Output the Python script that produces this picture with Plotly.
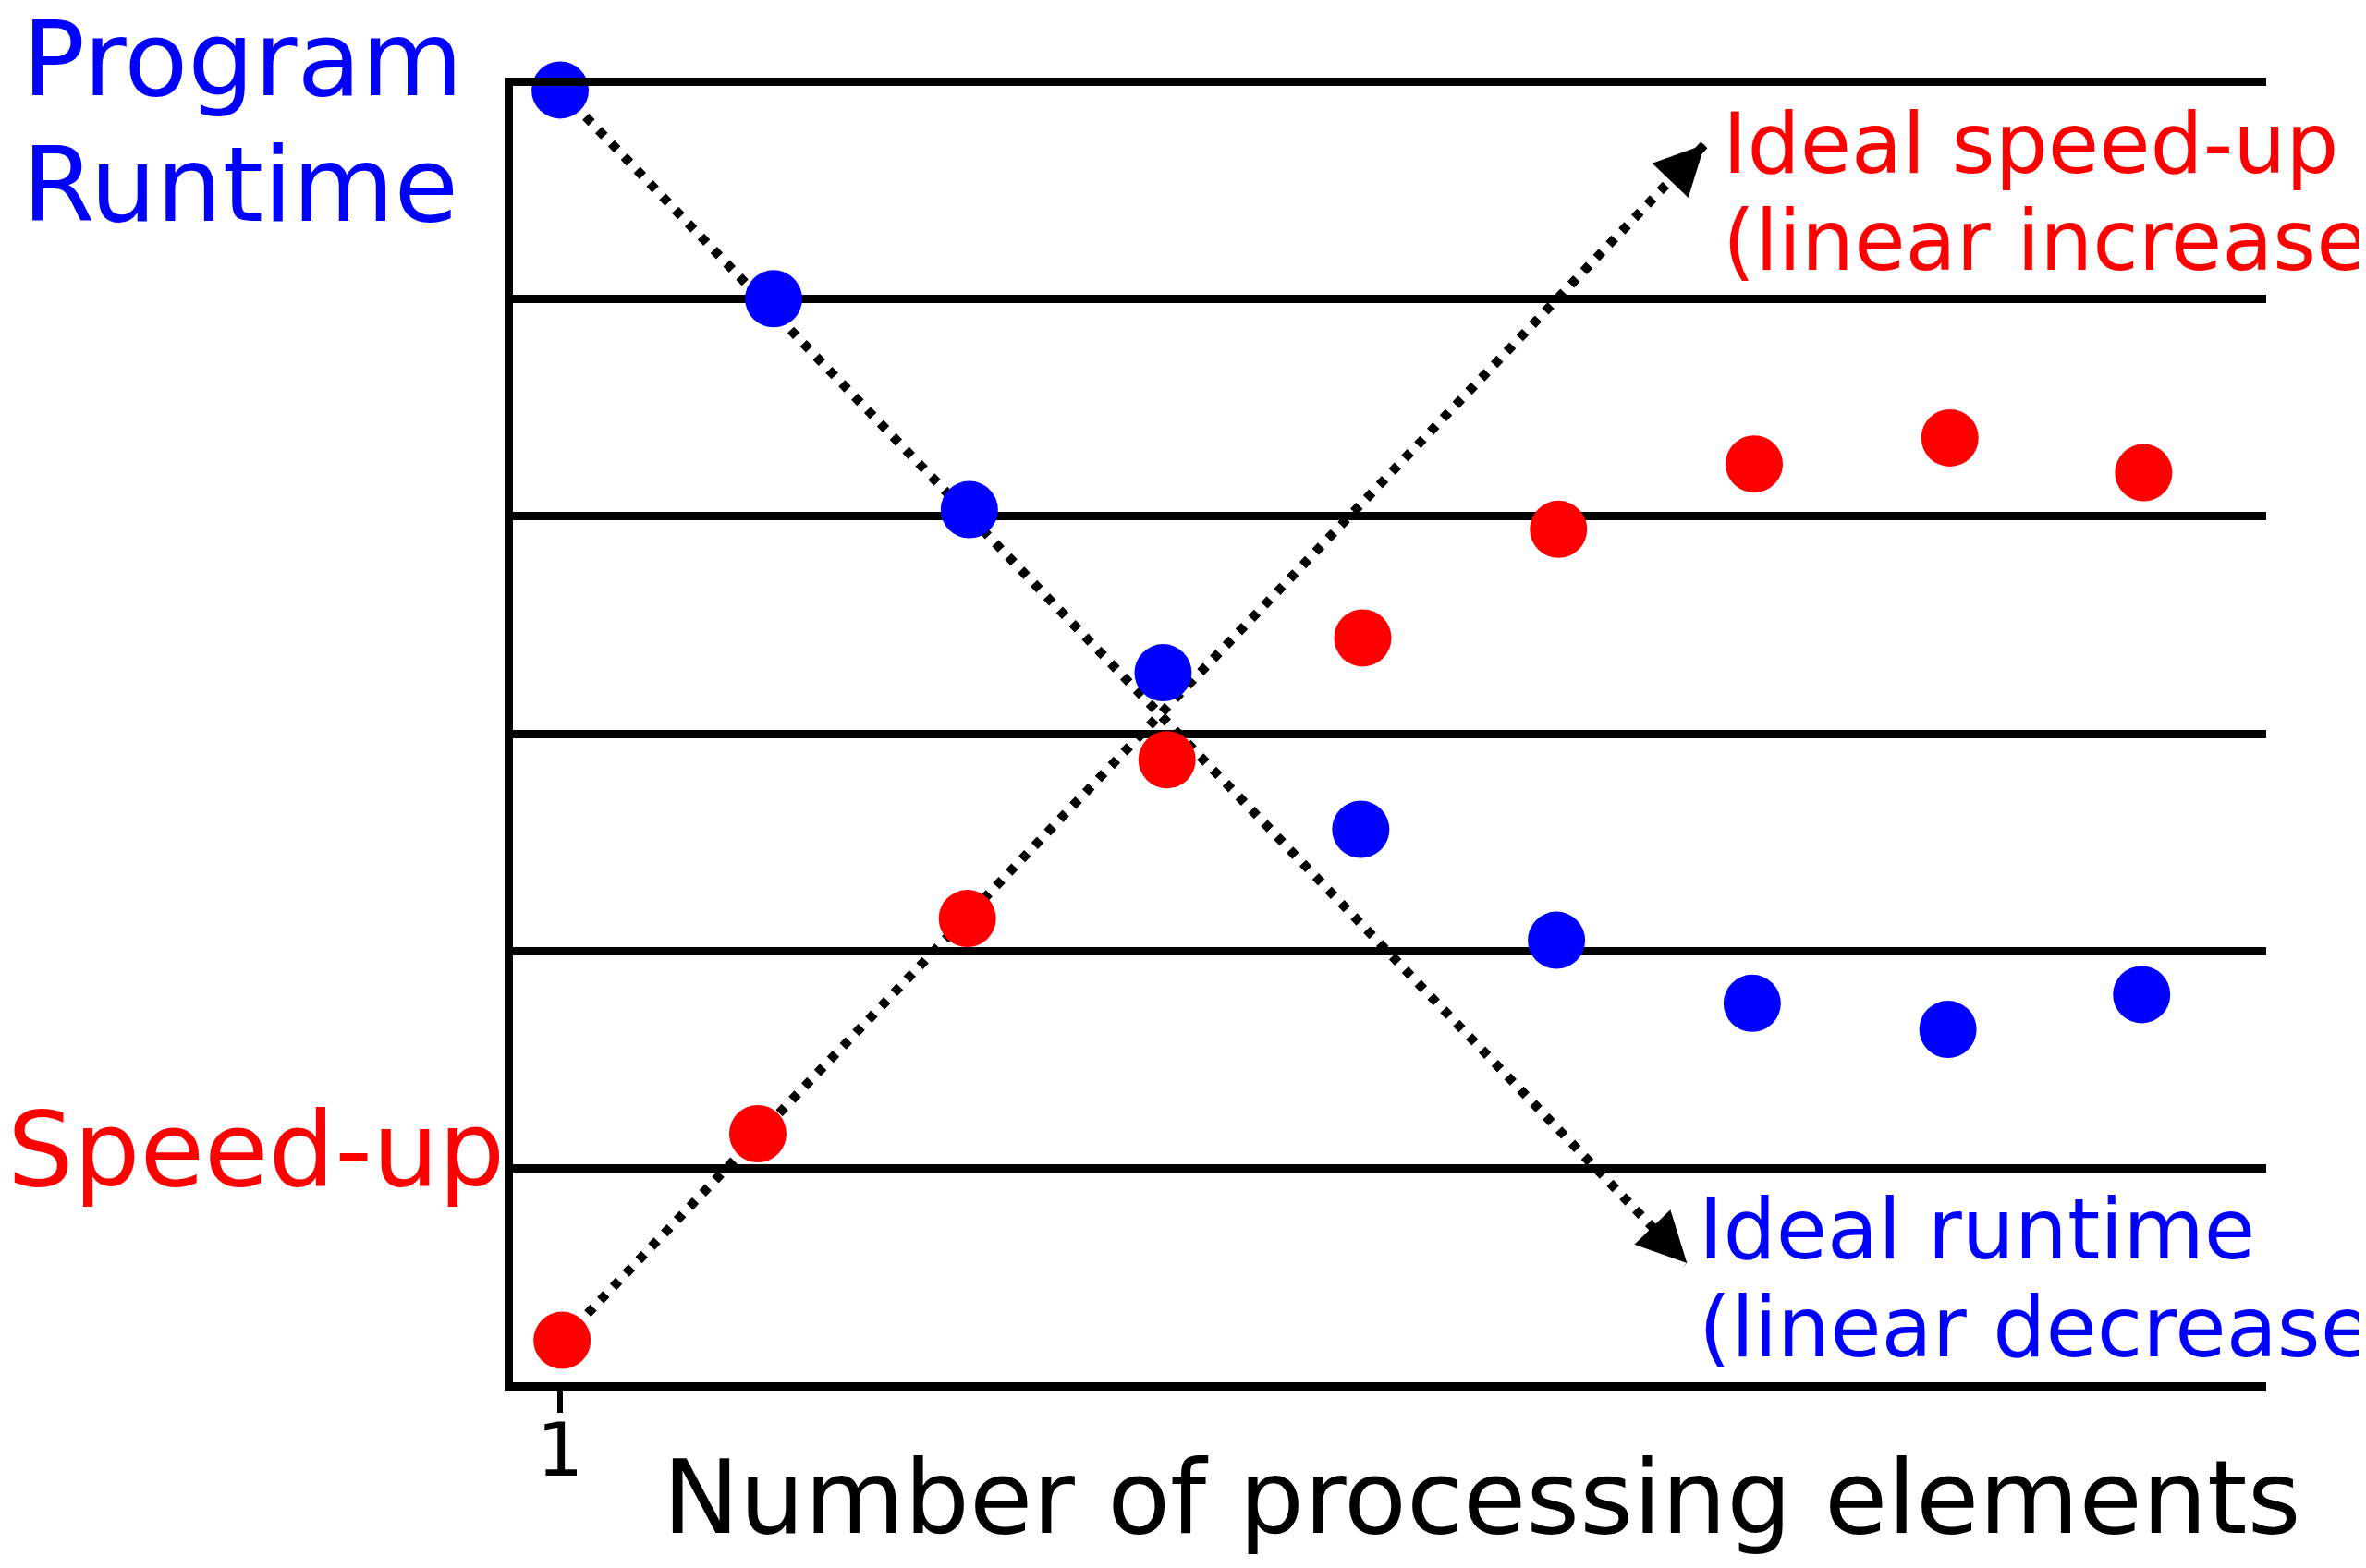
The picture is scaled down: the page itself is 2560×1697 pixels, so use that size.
import plotly.graph_objects as go

# values (x = number of processing elements, y in grid units)
runtime_x = [1, 2.08, 3.07, 4.05, 5.05, 6.04, 7.03, 8.02, 9.0]
runtime_y = [5.96, 5.00, 4.03, 3.28, 2.56, 2.05, 1.76, 1.64, 1.80]
speedup_x = [1.01, 2.00, 3.06, 4.07, 5.06, 6.05, 7.04, 8.03, 9.01]
speedup_y = [0.21, 1.16, 2.15, 2.88, 3.44, 3.94, 4.24, 4.36, 4.20]

ideal_runtime_x = [1, 6.70]
ideal_runtime_y = [5.96, 0.565]
ideal_speedup_x = [1.01, 6.79]
ideal_speedup_y = [0.21, 5.71]

grid_levels = [1, 2, 3, 4, 5]
tick_vals = [1]
tick_text = ["1"]

W, H = 2560, 1697
OFF = 8  # page body margin, positions below are in screenshot pixels
LW = 9
FONT = "DejaVu Sans"
BLUE = "#0000ff"
RED = "#ff0000"

fig = go.Figure()

# ideal lines (dotted) + arrow heads
for xs, ys in [(ideal_runtime_x, ideal_runtime_y), (ideal_speedup_x, ideal_speedup_y)]:
    fig.add_trace(go.Scatter(
        x=xs, y=ys, mode="lines",
        line=dict(color="black", width=10, dash="9px,11px"),
        cliponaxis=False, showlegend=False, hoverinfo="skip"))
    fig.add_annotation(
        x=xs[1], y=ys[1], ax=xs[1] - 0.03 * (xs[1] - xs[0]), ay=ys[1] - 0.03 * (ys[1] - ys[0]),
        xref="x", yref="y", axref="x", ayref="y", text="", showarrow=True,
        arrowhead=2, arrowwidth=3, arrowsize=3.6, arrowcolor="black")

fig.add_trace(go.Scatter(x=runtime_x, y=runtime_y, mode="markers",
                         marker=dict(color=BLUE, size=62, line=dict(width=0)),
                         cliponaxis=False, showlegend=False))
fig.add_trace(go.Scatter(x=speedup_x, y=speedup_y, mode="markers",
                         marker=dict(color=RED, size=62, line=dict(width=0)),
                         cliponaxis=False, showlegend=False))


def px_x(v):
    return (v - OFF) / W


def px_y(v):
    return 1 - (v - OFF) / H


def label(text, x, y, size, color, xanchor="left"):
    fig.add_annotation(text=text, x=px_x(x), y=px_y(y), xref="paper", yref="paper",
                       xanchor=xanchor, yanchor="middle", showarrow=False,
                       font=dict(family=FONT, size=size, color=color))


label("Program", 22, 64, 113, BLUE)
label("Runtime", 22, 200, 113, BLUE)
label("Speed-up", 6, 1244, 113, RED)
label("Ideal speed-up", 1862, 155, 90, RED)
label("(linear increase)", 1862, 261, 90, RED)
label("Ideal runtime", 1836, 1330, 90, BLUE)
label("(linear decrease)", 1836, 1436, 90, BLUE)
label("Number of processing elements", 1603, 1620, 111, "black", xanchor="center")

fig.update_layout(
    width=W, height=H,
    margin=dict(l=0, r=0, t=0, b=0),
    paper_bgcolor="white", plot_bgcolor="white",
    xaxis=dict(domain=[px_x(550 + LW / 2), px_x(2452)], range=[0.759, 9.63],
               showgrid=False, zeroline=False,
               showline=True, mirror=True, linecolor="black", linewidth=LW,
               tickvals=tick_vals, ticktext=tick_text,
               ticks="outside", ticklen=24, tickwidth=6, tickcolor="black",
               ticklabelstandoff=-28,
               tickfont=dict(family=FONT, size=80, color="black")),
    yaxis=dict(domain=[px_y(1500 - LW / 2), px_y(88 + LW / 2)], range=[0.019, 5.981],
               showgrid=True, gridcolor="black", gridwidth=LW,
               tickvals=grid_levels, showticklabels=False, ticks="",
               zeroline=False, showline=True, linecolor="black", linewidth=LW),
)

fig.write_html("out.html")
